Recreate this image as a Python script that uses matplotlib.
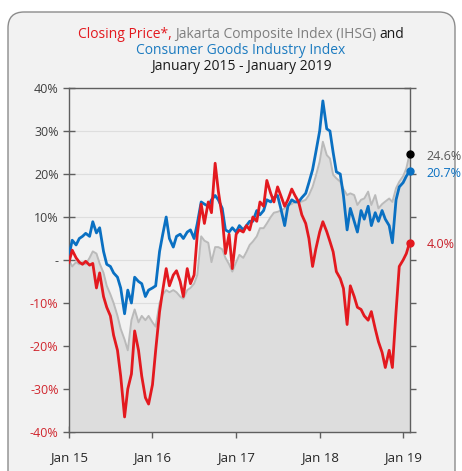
import pandas as pd
import matplotlib
matplotlib.use("Agg")
import matplotlib.pyplot as plt
from matplotlib.patches import FancyBboxPatch
from matplotlib.transforms import IdentityTransform

plt.rcParams['font.family'] = ['Open Sans', 'DejaVu Sans']

# semi-monthly samples, plus the last trading day shown
dates = list(pd.date_range('2015-01-01', '2019-01-15', freq='SMS')) + [pd.Timestamp('2019-01-29')]

consumer = [1.0, 4.6, 3.5, 5.0, 5.5, 6.2, 5.5, 8.9, 6.3, 7.5,
            2.0, -1.0, -1.5, -3.0, -4.0, -6.5, -12.5, -7.0, -10.0, -4.0,
            -5.0, -5.5, -8.5, -7.0, -6.5, -6.0, 2.0, 6.0, 10.0, 5.0,
            3.0, 5.5, 6.0, 5.0, 6.5, 7.0, 5.0, 8.5, 13.5, 13.0,
            12.5, 14.0, 15.0, 14.0, 12.0, 7.0, 6.5, 7.5, 6.5, 8.0,
            7.0, 8.0, 9.0, 9.0, 11.5, 10.5, 11.5, 14.0, 13.5, 14.5,
            15.0, 12.0, 8.0, 12.5, 14.0, 13.5, 13.5, 14.5, 15.5, 18.0,
            21.0, 25.0, 30.0, 37.0, 30.5, 30.0, 25.0, 20.5, 20.0, 15.0,
            7.0, 12.0, 9.0, 6.5, 11.5, 9.5, 12.5, 8.0, 11.0, 9.0,
            11.5, 9.5, 8.0, 4.0, 14.0, 17.0, 18.0, 19.5, 20.7]

closing = [-0.5, 2.3, 0.5, -0.5, -1.0, -0.3, -1.2, -0.8, -6.5, -3.0,
           -8.5, -11.0, -13.0, -17.5, -21.0, -27.0, -36.5, -30.0, -26.5, -16.5,
           -21.0, -27.0, -32.0, -33.5, -29.0, -21.0, -12.0, -7.0, -2.0, -6.0,
           -3.5, -2.5, -5.0, -8.5, -2.0, -5.5, -3.5, 6.0, 13.0, 8.5,
           13.5, 11.0, 22.5, 16.0, 10.0, 1.5, 6.0, -2.0, 6.0, 7.0,
           6.5, 8.0, 7.0, 10.0, 9.0, 13.5, 12.5, 18.5, 15.5, 13.5,
           17.0, 15.0, 12.5, 14.0, 16.5, 15.0, 13.5, 10.5, 8.5, 5.0,
           -1.5, 2.5, 6.5, 8.9, 6.6, 4.3, 1.9, -2.7, -4.3, -6.6,
           -15.0, -6.0, -8.5, -11.0, -11.5, -13.0, -14.0, -12.0, -16.0, -19.0,
           -21.5, -25.0, -21.0, -25.0, -12.0, -1.5, 0.0, 1.5, 4.0]

ihsg = [0.0, -1.5, -0.5, -1.0, -0.5, -1.0, 0.5, 2.0, 1.5, -0.8,
        -3.0, -6.0, -8.0, -10.0, -13.0, -16.0, -18.5, -21.0, -14.0, -11.5,
        -14.5, -13.0, -14.0, -13.0, -14.5, -15.5, -10.0, -8.0, -7.0, -7.5,
        -7.0, -7.5, -8.5, -9.0, -7.0, -6.5, -5.5, -3.5, 5.5, 4.5,
        4.0, -0.5, 3.0, 3.0, 2.5, 0.5, -1.0, -2.7, -0.5, 1.2,
        0.5, 1.9, 3.5, 4.3, 5.5, 7.4, 7.4, 8.5, 10.0, 11.0,
        11.2, 11.5, 12.0, 12.8, 13.0, 13.6, 13.4, 13.6, 14.0, 15.1,
        17.0, 19.5, 22.9, 27.5, 24.4, 23.6, 19.8, 19.0, 18.2, 16.5,
        15.1, 15.5, 15.1, 12.8, 14.0, 14.3, 15.9, 12.8, 15.1, 12.0,
        13.0, 13.6, 14.3, 13.5, 16.7, 18.2, 19.5, 21.3, 24.6]

year_ticks = ['2015-01-01', '2016-01-01', '2017-01-01', '2018-01-01', '2019-01-01']
year_labels = ['Jan 15', 'Jan 16', 'Jan 17', 'Jan 18', 'Jan 19']
y_ticks = [-40, -30, -20, -10, 0, 10, 20, 30, 40]

RED = '#e3191f'
BLUE = '#0a70c2'
GRAY_LINE = '#bababa'
GRAY_FILL = '#dddddd'
BG = '#f2f2f2'

fig = plt.figure(figsize=(4.62, 4.71), dpi=100, facecolor='white')

# rounded panel behind everything (pixel coords)
panel = FancyBboxPatch((8, -30), 447, 471 - 12 + 30,
                       boxstyle='round,pad=0,rounding_size=16',
                       facecolor=BG, edgecolor='#8c8c8c', linewidth=1.0,
                       transform=IdentityTransform(), zorder=-5)
fig.patches.append(panel)

ax = fig.add_axes([69 / 462, 1 - 432 / 471, 341 / 462, 344 / 471])
ax.set_facecolor(BG)
ax.patch.set_alpha(0)

ax.fill_between(dates, ihsg, -40, color=GRAY_FILL, lw=0, zorder=1)
ax.plot(dates, ihsg, color=GRAY_LINE, lw=1.4, zorder=2)
ax.plot(dates, consumer, color=BLUE, lw=2.0, zorder=3)
ax.plot(dates, closing, color=RED, lw=2.0, zorder=4)

ax.plot(dates[-1], ihsg[-1], 'o', color='black', ms=5, zorder=6, clip_on=False)
ax.plot(dates[-1], consumer[-1], 'o', color=BLUE, ms=5, zorder=6, clip_on=False)
ax.plot(dates[-1], closing[-1], 'o', color=RED, ms=5, zorder=6, clip_on=False)

ax.set_xlim(pd.Timestamp('2015-01-01'), pd.Timestamp('2019-01-31'))
ax.set_ylim(-40, 40)
ax.set_yticks(y_ticks)
ylabels = ['-' if v == 0 else f'{v}%' for v in y_ticks]
ax.set_yticklabels(ylabels)
for lab, v in zip(ax.get_yticklabels(), y_ticks):
    lab.set_color('#d0262e' if v < 0 else '#404040')
ax.set_xticks(pd.to_datetime(year_ticks))
ax.set_xticklabels(year_labels, color='#262626')

ax.grid(axis='y', color='#dedede', lw=0.8)
ax.set_axisbelow(True)
for s in ax.spines.values():
    s.set_color('#5f5f5f')
    s.set_linewidth(1.0)
ax.tick_params(axis='y', direction='inout', length=9, width=1, color='#5f5f5f',
               labelsize=9, pad=3, right=True)
ax.tick_params(axis='x', direction='inout', length=8, width=1, color='#5f5f5f',
               labelsize=9.5, pad=10)

# end labels
ax.annotate(f'{ihsg[-1]:.1f}%', (dates[-1], ihsg[-1]), xytext=(12, -2),
            textcoords='offset points', va='center', ha='left', color='#595959',
            fontsize=9, annotation_clip=False)
ax.annotate(f'{consumer[-1]:.1f}%', (dates[-1], consumer[-1]), xytext=(12, -2),
            textcoords='offset points', va='center', ha='left', color=BLUE,
            fontsize=9, annotation_clip=False)
ax.annotate(f'{closing[-1]:.1f}%', (dates[-1], closing[-1]), xytext=(12, -1),
            textcoords='offset points', va='center', ha='left', color='#c8202a',
            fontsize=9, annotation_clip=False)


def colored_line(pieces, cx, cy, size):
    # draw a line made of differently coloured pieces, centred on cx (figure px)
    renderer = fig.canvas.get_renderer()
    texts = []
    for s, c in pieces:
        t = fig.text(0, 1 - cy / 471, s, color=c, fontsize=size, va='center', ha='left')
        texts.append(t)
    widths = [t.get_window_extent(renderer).width for t in texts]
    x = cx - sum(widths) / 2
    for t, w in zip(texts, widths):
        t.set_x(x / 462)
        x += w


colored_line([('Closing Price*, ', RED), ('Jakarta Composite Index (IHSG) ', '#7f7f7f'),
              ('and', '#1a1a1a')], 241, 34, 10)
colored_line([('Consumer Goods Industry Index', '#1c7bc0')], 241, 50, 10)
colored_line([('January 2015 - January 2019', '#1a1a1a')], 241, 67, 10)

fig.savefig('out.png', dpi=100)
